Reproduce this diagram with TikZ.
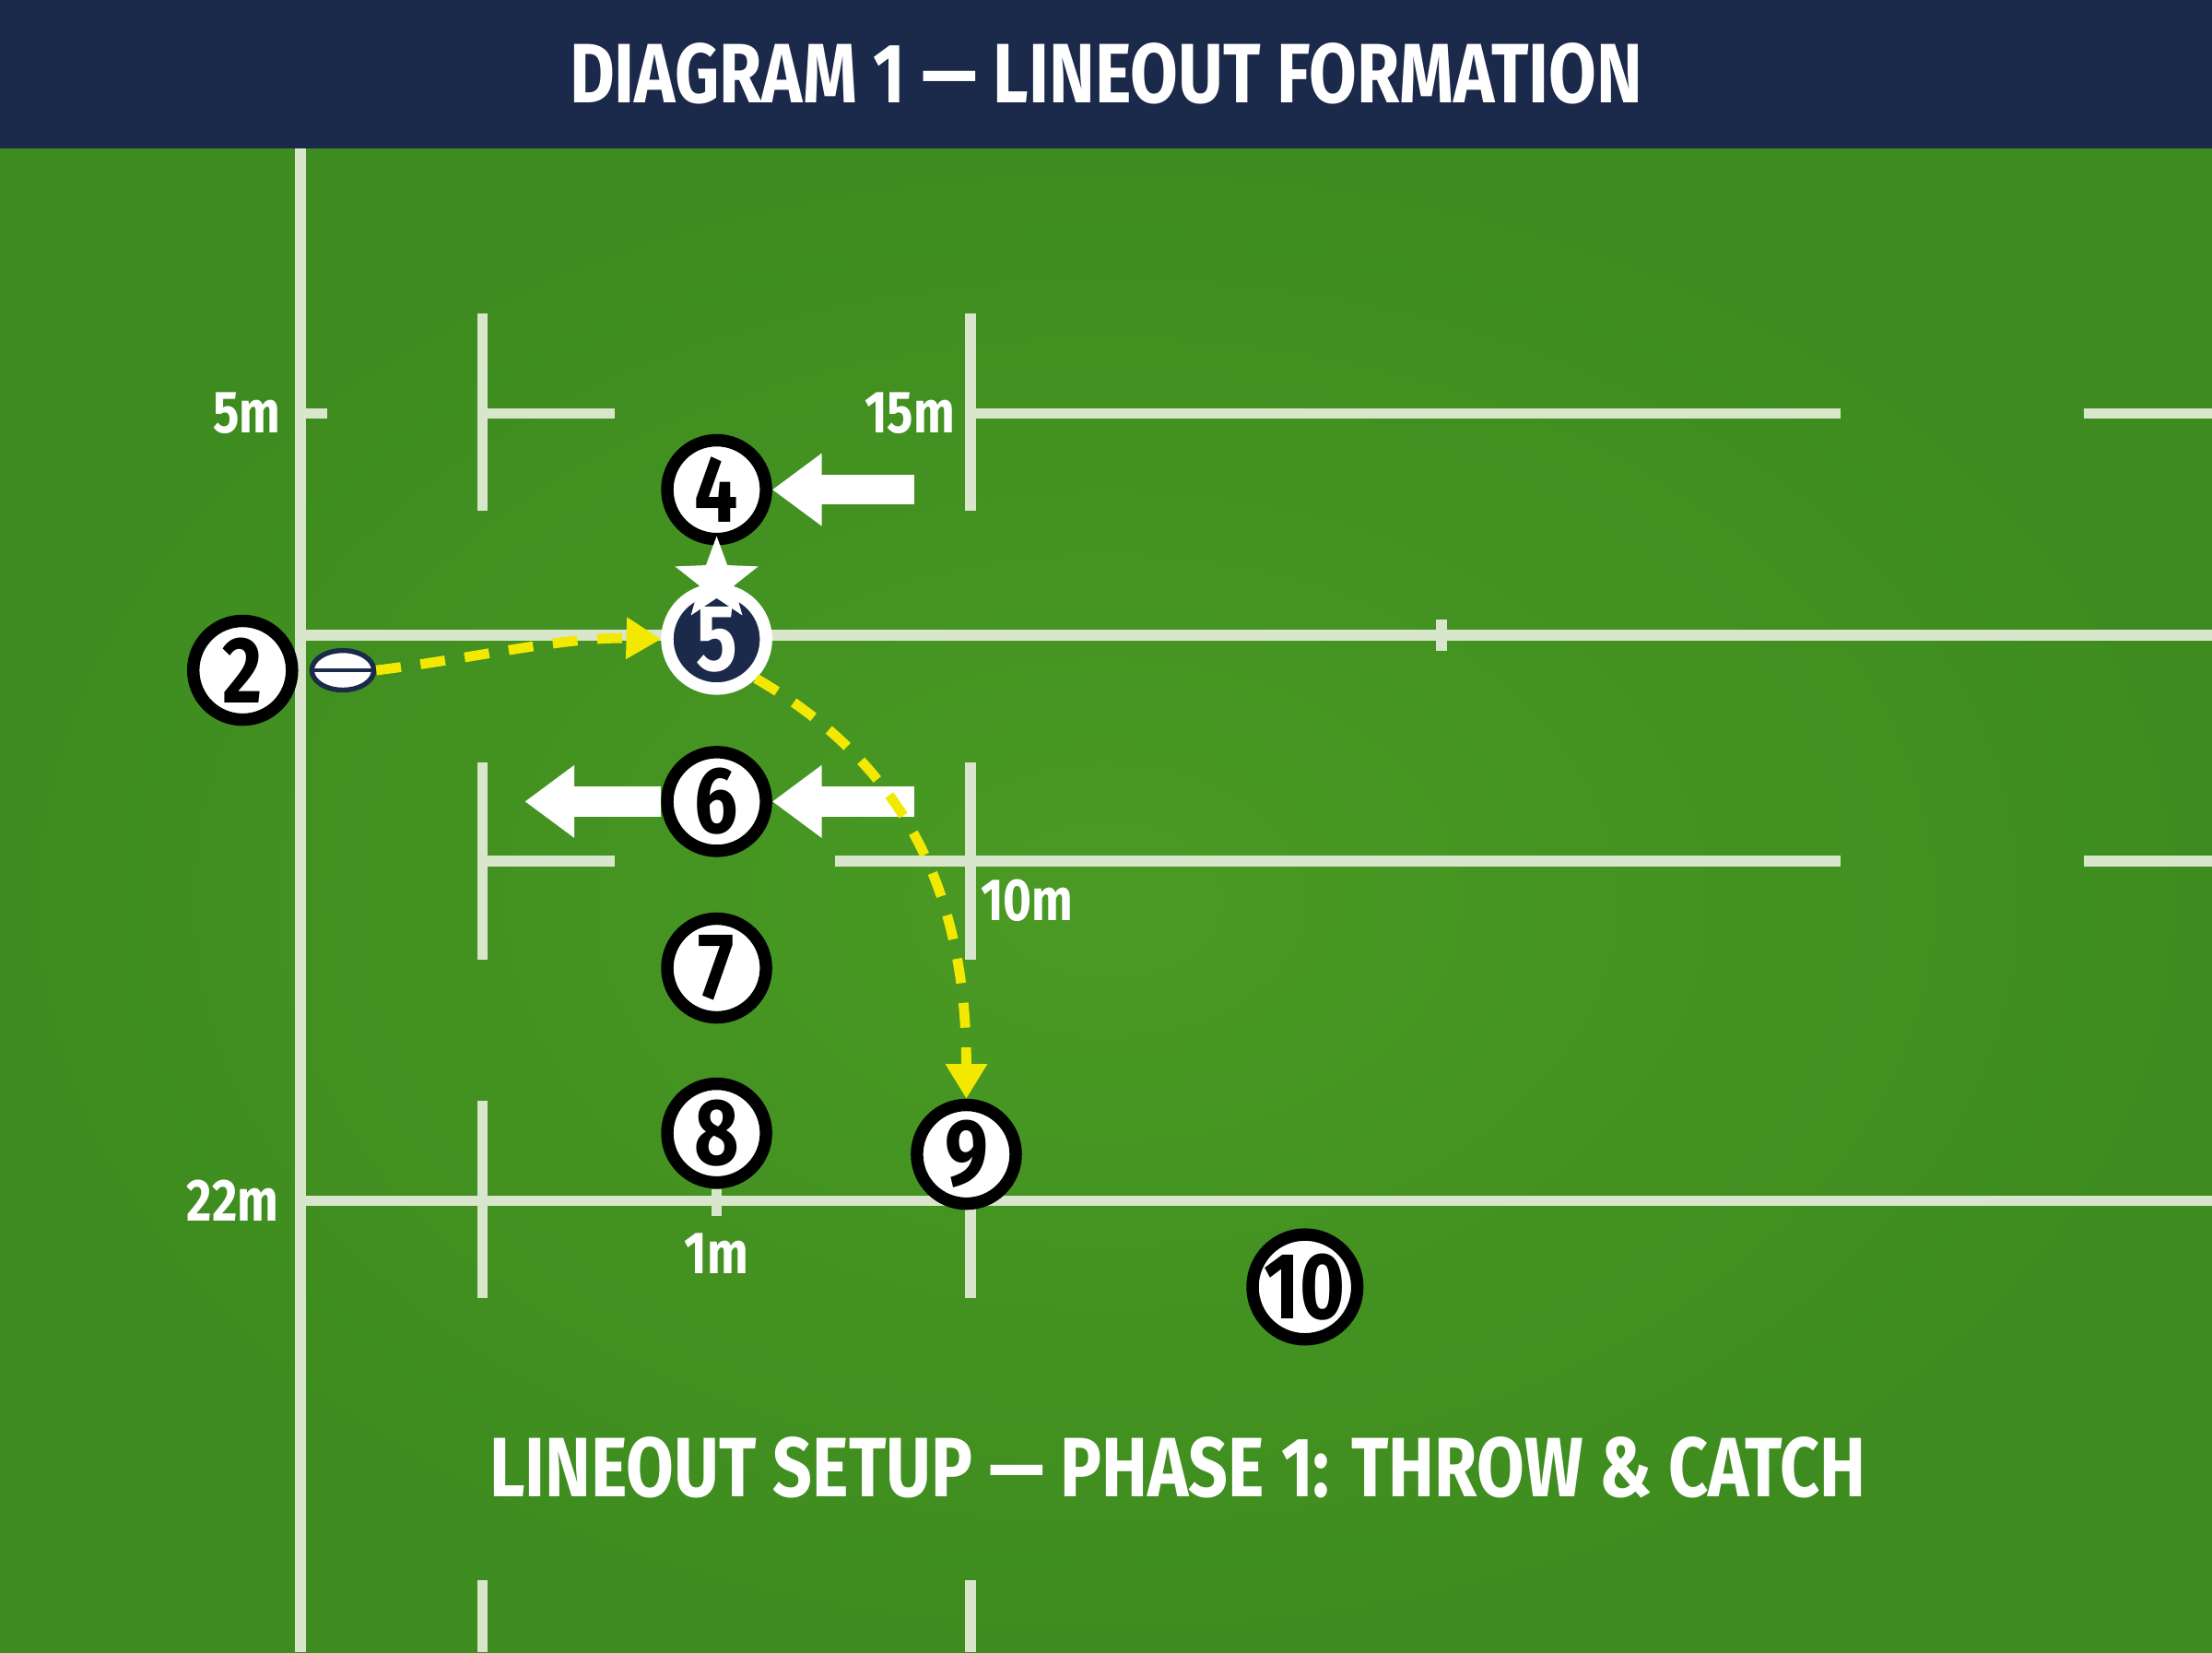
\documentclass[tikz,border=0pt]{standalone}
\usepackage{fontspec}
\setmainfont{Fira Sans}
\newfontfamily\headfont{Fira Sans}[FakeStretch=0.82]
\usetikzlibrary{arrows.meta,shapes.geometric}
\definecolor{navy}{HTML}{1B2A4A}
\definecolor{turf}{HTML}{4A9A24}
\definecolor{turfdark}{HTML}{3E8C1F}
\definecolor{chalk}{HTML}{D8E6CC}
\definecolor{throwy}{HTML}{F2E800}
\tikzset{
  ln/.style={chalk,line width=2.2pt},
  pl/.style={circle,draw=black,fill=white,line width=2.5pt,minimum size=.7cm,inner sep=0pt,font=\headfont\bfseries\fontsize{19}{19}\selectfont},
  lbl/.style={text=white,font=\headfont\bfseries\fontsize{12}{12}\selectfont},
  mv/.style={white,line width=6pt,-{Triangle[width=14pt,length=10pt]}},
  thr/.style={throwy,line width=2pt,dash pattern=on 5pt off 4pt,-{Triangle[width=8pt,length=7pt]}}
}
\begin{document}
\begin{tikzpicture}[x=1cm,y=1cm]
\useasboundingbox (0,0) rectangle (15.68,11.71);
% field and header
\shade[inner color=turf,outer color=turfdark] (0,0) rectangle (15.68,10.66);
\fill[navy] (0,10.66) rectangle (15.68,11.71);
\node[text=white,font=\headfont\bfseries\fontsize{17}{17}\selectfont] (title) at (7.84,11.19) {DIAGRAM 1 — LINEOUT FORMATION};
% touch line and field lines
\draw[ln] (2.13,0) -- (2.13,10.66);
\draw[ln] (2.13,8.78) -- (2.32,8.78);
\draw[ln] (3.42,8.78) -- (4.36,8.78);
\draw[ln] (6.88,8.78) -- (13.05,8.78);
\draw[ln] (14.77,8.78) -- (15.68,8.78);
\draw[ln] (2.13,7.21) -- (15.68,7.21);
\draw[ln] (10.22,7.10) -- (10.22,7.32);
\draw[ln] (3.42,5.61) -- (4.36,5.61);
\draw[ln] (5.92,5.61) -- (13.05,5.61);
\draw[ln] (14.77,5.61) -- (15.68,5.61);
\draw[ln] (2.13,3.20) -- (15.68,3.20);
\draw[ln] (5.08,3.09) -- (5.08,3.28);
\foreach \x in {3.42,6.88} {
  \draw[ln] (\x,8.09) -- (\x,9.49);
  \draw[ln] (\x,4.91) -- (\x,6.31);
  \draw[ln] (\x,2.51) -- (\x,3.91);
  \draw[ln] (\x,0) -- (\x,0.51);
}
% distance labels
\node[lbl] (m5) at (1.75,8.78) {5m};
\node[lbl] (m15) at (6.45,8.78) {15m};
\node[lbl] (m10) at (7.28,5.33) {10m};
\node[lbl] (m22) at (1.65,3.20) {22m};
\node[lbl] (m1) at (5.08,2.83) {1m};
% players
\node[pl] (p4) at (5.08,8.24) {4};
\node[pl,fill=navy,draw=white,text=white] (p5) at (5.08,7.18) {5};
\node[pl] (p2) at (1.72,6.96) {2};
\node[pl] (p6) at (5.08,6.03) {6};
\node[pl] (p7) at (5.08,4.85) {7};
\node[pl] (p8) at (5.08,3.68) {8};
\node[pl] (p9) at (6.85,3.53) {9};
\node[pl] (p10) at (9.25,2.59) {10};
\node[star,star points=5,star point ratio=2.4,fill=white,minimum size=.62cm,inner sep=0pt] (jump) at (5.08,7.60) {};
\node[ellipse,draw=navy,fill=white,line width=1pt,minimum width=.44cm,minimum height=.28cm,inner sep=0pt] (ball) at (2.43,6.96) {};
\draw[navy,line width=.6pt] (ball.west) -- (ball.east);
% movement arrows
\coordinate (a4) at (6.48,8.24);
\coordinate (a6) at (6.48,6.03);
\coordinate (b6) at (3.72,6.03);
\draw[mv] (a4) -- (p4);
\draw[mv] (a6) -- (p6);
\draw[mv] (p6) -- (b6);
% throw and pass
\draw[thr] (ball.east) .. controls (3.4,7.05) and (4.0,7.2) .. (p5.west);
\draw[thr] (p5.south east) .. controls (6.4,6.3) and (6.85,5.4) .. (p9.north);
% caption
\node[text=white,font=\headfont\bfseries\fontsize{17}{17}\selectfont] (cap) at (8.35,1.31) {LINEOUT SETUP — PHASE 1: THROW \& CATCH};
\end{tikzpicture}
\end{document}
